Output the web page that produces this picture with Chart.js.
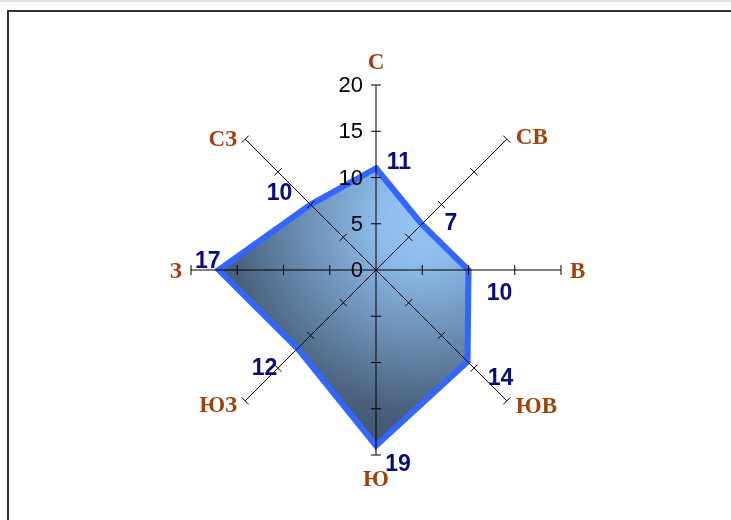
<!DOCTYPE html>
<html lang="ru">
<head>
<meta charset="utf-8">
<script src="https://cdn.jsdelivr.net/npm/chart.js@4/dist/chart.umd.min.js"></script>
<style>
  html, body { margin: 0; padding: 0; background: #fff; }
  body { width: 731px; height: 520px; position: relative; overflow: hidden; }
  .strip { position: absolute; left: 0; top: 0; width: 731px; height: 2px; background: #e4e4e4; }
  .frame { position: absolute; left: 7px; top: 10px; width: 800px; height: 600px;
           border-left: 2px solid #333; border-top: 2px solid #333; }
  #rosa { position: absolute; left: 0; top: 0; }
</style>
</head>
<body>
<div class="strip"></div>
<div class="frame"></div>
<canvas id="rosa" width="731" height="520"></canvas>
<script>
// Роза ветров: направления и число случаев
const napravleniya = ['С', 'СВ', 'В', 'ЮВ', 'Ю', 'ЮЗ', 'З', 'СЗ'];
const znacheniya = [11, 7, 10, 14, 19, 12, 17, 10];
const shkala = [0, 5, 10, 15, 20];

// смещения подписей (пиксели) от конца оси / от точки
const sdvigNapr = [[0, -22, 'center'], [9, -1, 'left'], [9, 2, 'left'], [9, 6, 'left'],
                   [0, 25, 'center'], [-8, 5, 'right'], [-9, 2, 'right'], [-8, 1, 'right']];
const sdvigZnach = [[23, -6], [29, -1], [31, 24], [33, 17], [22, 19], [-33, 20], [-11, -8], [-31, -11]];

function zalivka(context) {
  const chart = context.chart;
  const s = chart.scales.r;
  if (!s || !chart.chartArea) return '#7fa8d8';
  const r = s.drawingArea;
  const cx = s.xCenter + r * 0.24, cy = s.yCenter - r * 0.27;
  const g = chart.ctx.createRadialGradient(cx, cy, 0, cx, cy, r * 1.2);
  g.addColorStop(0, '#96c6f6');
  g.addColorStop(0.2, '#8dbbe9');
  g.addColorStop(0.55, '#6a8cb1');
  g.addColorStop(0.85, '#4a627e');
  g.addColorStop(1, '#415873');
  return g;
}

const osi = {
  id: 'osi',
  afterDatasetsDraw(chart) {
    const s = chart.scales.r;
    const ctx = chart.ctx;
    const cx = s.xCenter, cy = s.yCenter;
    ctx.save();
    ctx.strokeStyle = '#000';
    ctx.lineWidth = 1;
    napravleniya.forEach((n, i) => {
      const end = s.getPointPositionForValue(i, shkala[shkala.length - 1]);
      ctx.beginPath();
      ctx.moveTo(cx, cy);
      ctx.lineTo(end.x, end.y);
      ctx.stroke();
      const len = Math.hypot(end.x - cx, end.y - cy);
      const ux = (end.x - cx) / len, uy = (end.y - cy) / len;
      shkala.slice(1).forEach(v => {
        const p = s.getPointPositionForValue(i, v);
        ctx.beginPath();
        ctx.moveTo(p.x + uy * 5, p.y - ux * 5);
        ctx.lineTo(p.x - uy * 5, p.y + ux * 5);
        ctx.stroke();
      });
      // подпись направления
      const d = sdvigNapr[i];
      ctx.font = 'bold 23px "Liberation Serif", "Times New Roman", serif';
      ctx.fillStyle = '#a3400c';
      ctx.textAlign = d[2];
      ctx.textBaseline = 'middle';
      ctx.fillText(n, end.x + d[0], end.y + d[1]);
    });
    // значения шкалы
    ctx.font = '22px "Liberation Sans", Arial, sans-serif';
    ctx.fillStyle = '#000';
    ctx.textAlign = 'right';
    ctx.textBaseline = 'middle';
    shkala.forEach(v => {
      const p = s.getPointPositionForValue(0, v);
      ctx.fillText(String(v), p.x - 13, p.y + 1);
    });
    // подписи данных
    ctx.font = 'bold 23px "Liberation Sans", Arial, sans-serif';
    ctx.fillStyle = '#0a0a80';
    ctx.textAlign = 'center';
    znacheniya.forEach((v, i) => {
      const p = s.getPointPositionForValue(i, v);
      ctx.fillText(String(v), p.x + sdvigZnach[i][0], p.y + sdvigZnach[i][1]);
    });
    ctx.restore();
  }
};

new Chart(document.getElementById('rosa').getContext('2d'), {
  type: 'radar',
  data: {
    labels: napravleniya,
    datasets: [{
      data: znacheniya,
      borderColor: '#3366ff',
      borderWidth: 6,
      borderJoinStyle: 'miter',
      backgroundColor: zalivka,
      fill: true,
      pointRadius: 0,
      tension: 0
    }]
  },
  options: {
    responsive: false,
    animation: false,
    layout: { padding: { left: 191, right: 170, top: 85, bottom: 65 } },
    plugins: { legend: { display: false }, tooltip: { enabled: false } },
    scales: {
      r: {
        min: 0,
        max: 20,
        ticks: { display: false, stepSize: 5 },
        grid: { display: false },
        angleLines: { display: false },
        pointLabels: { display: false }
      }
    }
  },
  plugins: [osi]
});
</script>
</body>
</html>
